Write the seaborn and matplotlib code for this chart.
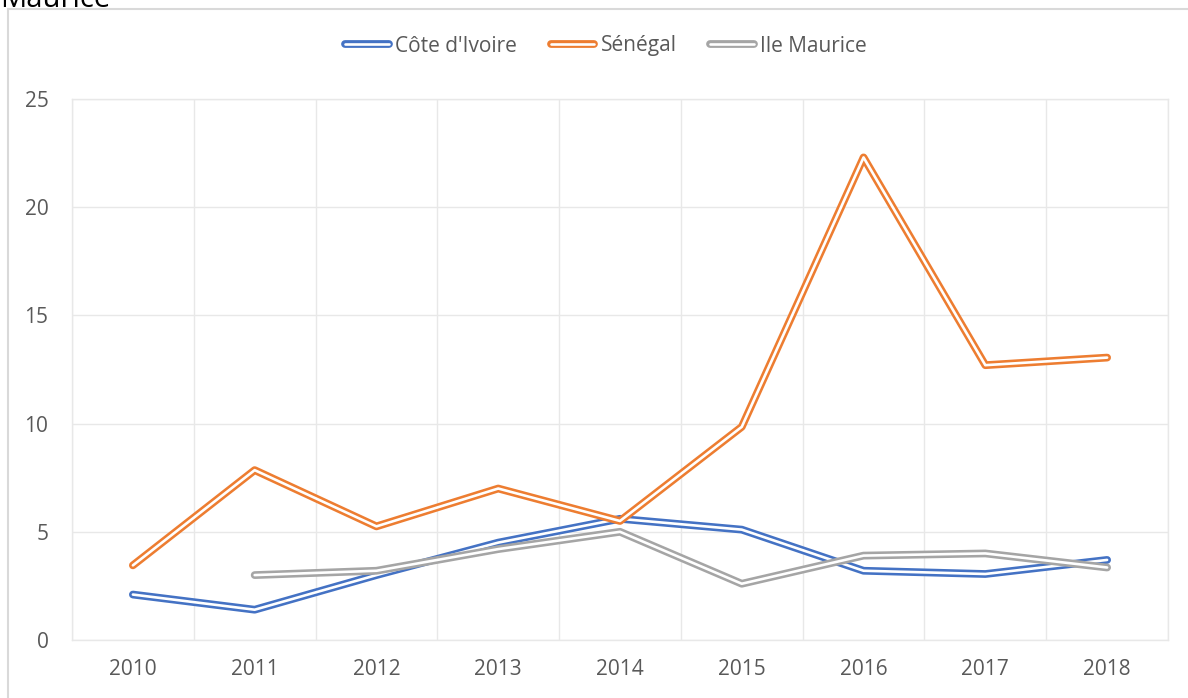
import numpy as np
import pandas as pd
import seaborn as sns
import matplotlib.pyplot as plt
import matplotlib.patheffects as pe
from matplotlib.lines import Line2D

years = [2010, 2011, 2012, 2013, 2014, 2015, 2016, 2017, 2018]
cote_ivoire = [2.1, 1.4, 3.0, 4.5, 5.6, 5.1, 3.2, 3.05, 3.7]
senegal = [3.45, 7.85, 5.25, 7.0, 5.5, 9.85, 22.3, 12.7, 13.05]
ile_maurice = [np.nan, 3.0, 3.2, 4.2, 5.0, 2.6, 3.9, 4.0, 3.35]
countries = ["Côte d'Ivoire", "Sénégal", "Ile Maurice"]
colors = ["#4472C4", "#ED7D31", "#A5A5A5"]

df = pd.DataFrame({
    "year": years * 3,
    "value": cote_ivoire + senegal + ile_maurice,
    "country": [c for c in countries for _ in years],
})

sns.set_style("white")
plt.rcParams["font.family"] = ["Open Sans", "DejaVu Sans"]

fig = plt.figure(figsize=(11.88, 6.98), dpi=100)
ax = fig.add_axes([72 / 1188, 1 - 640 / 698, 1096 / 1188, 541 / 698])

sns.lineplot(data=df, x="year", y="value", hue="country", hue_order=countries,
             palette=colors, legend=False, ax=ax)

# double ("compound") line style like Excel
for line, c in zip(ax.lines, colors):
    line.set_path_effects([pe.Stroke(linewidth=5.6, foreground=c), pe.Normal()])
    line.set_color("white")
    line.set_linewidth(1.9)

ax.set_xlim(2009.5, 2018.5)
ax.set_ylim(0, 25)
ax.set_xticks(years)
ax.set_xticks(np.arange(2009.5, 2019, 1), minor=True)
ax.set_yticks([0, 5, 10, 15, 20, 25])
ax.grid(which="minor", axis="x", color="#E8E8E8", lw=1)
ax.grid(which="major", axis="y", color="#E8E8E8", lw=1)
ax.grid(which="major", axis="x", visible=False)
ax.tick_params(which="both", length=0, labelsize=15, colors="#595959")
ax.tick_params(axis="x", pad=14)
ax.tick_params(axis="y", pad=17)
ax.set_xlabel("")
ax.set_ylabel("")
for s in ax.spines.values():
    s.set_color("#E8E8E8")
    s.set_linewidth(1)

ax.legend(handles=ax.lines[:3], labels=countries, loc="center",
          bbox_to_anchor=(606 / 1188, 1 - 46 / 698), bbox_transform=fig.transFigure,
          ncol=3, frameon=False, fontsize=15, labelcolor="#595959",
          handlelength=2.1, columnspacing=1.6, handletextpad=0.3)

# chart border and cut-off title
fig.add_artist(Line2D([8 / 1188, 8 / 1188], [0, 1 - 9 / 698], transform=fig.transFigure,
                      color="#D9D9D9", lw=1.5))
fig.add_artist(Line2D([8 / 1188, 1], [1 - 9 / 698, 1 - 9 / 698], transform=fig.transFigure,
                      color="#D9D9D9", lw=1.5))
fig.text(0.0, 1 - 7 / 698, "Maurice", fontsize=21, color="black", va="baseline")

fig.savefig("out.png", dpi=100)
